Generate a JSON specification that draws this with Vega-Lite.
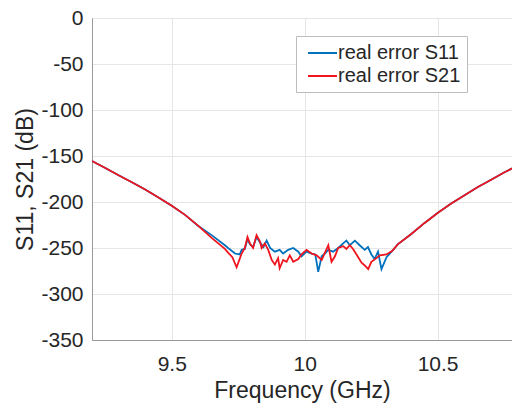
{
  "$schema": "https://vega.github.io/schema/vega-lite/v6.json",
  "width": 420,
  "height": 322,
  "autosize": {"type": "none"},
  "padding": {"left": 92, "top": 18, "right": 0, "bottom": 69},
  "background": "white",
  "config": {
    "font": "Liberation Sans",
    "view": {"stroke": "#9a9a9a", "strokeWidth": 1}
  },
  "datasets": {
    "s11": [
      {"f": 9.2, "v": -155.5}, {"f": 9.25, "v": -163}, {"f": 9.3, "v": -171}, {"f": 9.35, "v": -178.5},
      {"f": 9.4, "v": -186.5}, {"f": 9.45, "v": -195}, {"f": 9.5, "v": -204}, {"f": 9.55, "v": -214},
      {"f": 9.6, "v": -226}, {"f": 9.65, "v": -236}, {"f": 9.7, "v": -247}, {"f": 9.712, "v": -250},
      {"f": 9.738, "v": -256}, {"f": 9.756, "v": -257}, {"f": 9.763, "v": -252}, {"f": 9.775, "v": -251},
      {"f": 9.785, "v": -240}, {"f": 9.794, "v": -246}, {"f": 9.806, "v": -249}, {"f": 9.819, "v": -238},
      {"f": 9.832, "v": -244}, {"f": 9.845, "v": -249}, {"f": 9.857, "v": -242}, {"f": 9.87, "v": -250},
      {"f": 9.888, "v": -254}, {"f": 9.906, "v": -252}, {"f": 9.919, "v": -256}, {"f": 9.938, "v": -252},
      {"f": 9.957, "v": -250}, {"f": 9.976, "v": -254}, {"f": 9.988, "v": -259}, {"f": 10.007, "v": -254},
      {"f": 10.026, "v": -256}, {"f": 10.04, "v": -257}, {"f": 10.051, "v": -276}, {"f": 10.064, "v": -259},
      {"f": 10.076, "v": -256}, {"f": 10.089, "v": -252}, {"f": 10.107, "v": -254}, {"f": 10.126, "v": -250},
      {"f": 10.145, "v": -245}, {"f": 10.157, "v": -242}, {"f": 10.17, "v": -247}, {"f": 10.189, "v": -242},
      {"f": 10.207, "v": -247}, {"f": 10.226, "v": -252}, {"f": 10.238, "v": -249}, {"f": 10.251, "v": -257},
      {"f": 10.263, "v": -262}, {"f": 10.276, "v": -254}, {"f": 10.289, "v": -273}, {"f": 10.308, "v": -260},
      {"f": 10.33, "v": -253}, {"f": 10.35, "v": -246}, {"f": 10.4, "v": -235}, {"f": 10.45, "v": -223},
      {"f": 10.5, "v": -212}, {"f": 10.55, "v": -202}, {"f": 10.6, "v": -193}, {"f": 10.65, "v": -184},
      {"f": 10.7, "v": -176}, {"f": 10.75, "v": -168}, {"f": 10.78, "v": -163.5}
    ],
    "s21": [
      {"f": 9.2, "v": -155.5}, {"f": 9.25, "v": -163}, {"f": 9.3, "v": -171}, {"f": 9.35, "v": -178.5},
      {"f": 9.4, "v": -186.5}, {"f": 9.45, "v": -195}, {"f": 9.5, "v": -204}, {"f": 9.55, "v": -214},
      {"f": 9.6, "v": -226}, {"f": 9.65, "v": -239}, {"f": 9.7, "v": -251}, {"f": 9.712, "v": -255},
      {"f": 9.728, "v": -260}, {"f": 9.744, "v": -271}, {"f": 9.763, "v": -256}, {"f": 9.775, "v": -250},
      {"f": 9.785, "v": -238}, {"f": 9.794, "v": -245}, {"f": 9.806, "v": -250}, {"f": 9.819, "v": -236},
      {"f": 9.832, "v": -243}, {"f": 9.838, "v": -250}, {"f": 9.85, "v": -245}, {"f": 9.863, "v": -252},
      {"f": 9.876, "v": -263}, {"f": 9.888, "v": -268}, {"f": 9.9, "v": -261}, {"f": 9.906, "v": -272},
      {"f": 9.919, "v": -263}, {"f": 9.932, "v": -265}, {"f": 9.944, "v": -258}, {"f": 9.957, "v": -265},
      {"f": 9.976, "v": -262}, {"f": 9.988, "v": -257}, {"f": 10.007, "v": -252}, {"f": 10.026, "v": -256},
      {"f": 10.045, "v": -258}, {"f": 10.064, "v": -263}, {"f": 10.089, "v": -247}, {"f": 10.101, "v": -265},
      {"f": 10.114, "v": -259}, {"f": 10.126, "v": -250}, {"f": 10.145, "v": -248}, {"f": 10.157, "v": -251},
      {"f": 10.17, "v": -247}, {"f": 10.182, "v": -251}, {"f": 10.195, "v": -257}, {"f": 10.214, "v": -266},
      {"f": 10.226, "v": -269}, {"f": 10.239, "v": -273}, {"f": 10.251, "v": -265}, {"f": 10.27, "v": -261},
      {"f": 10.283, "v": -258}, {"f": 10.308, "v": -257}, {"f": 10.33, "v": -253}, {"f": 10.35, "v": -246},
      {"f": 10.4, "v": -235}, {"f": 10.45, "v": -223}, {"f": 10.5, "v": -212}, {"f": 10.55, "v": -202},
      {"f": 10.6, "v": -193}, {"f": 10.65, "v": -184}, {"f": 10.7, "v": -176}, {"f": 10.75, "v": -168},
      {"f": 10.78, "v": -163.5}
    ]
  },
  "layer": [
    {
      "data": {"name": "s11"},
      "transform": [{"calculate": "'real error S11'", "as": "s"}],
      "mark": {"type": "line", "strokeWidth": 1.8, "clip": true},
      "encoding": {
        "x": {"field": "f", "type": "quantitative"},
        "y": {"field": "v", "type": "quantitative"},
        "color": {"field": "s", "type": "nominal"}
      }
    },
    {
      "data": {"name": "s21"},
      "transform": [{"calculate": "'real error S21'", "as": "s"}],
      "mark": {"type": "line", "strokeWidth": 1.8, "clip": true},
      "encoding": {
        "x": {"field": "f", "type": "quantitative"},
        "y": {"field": "v", "type": "quantitative"},
        "color": {"field": "s", "type": "nominal"}
      }
    }
  ],
  "encoding": {
    "x": {
      "field": "f", "type": "quantitative",
      "scale": {"domain": [9.2, 10.78], "nice": false, "zero": false},
      "axis": {
        "title": "Frequency (GHz)", "values": [9.5, 10, 10.5], "labelExpr": "'' + datum.value",
        "grid": true, "gridColor": "#e6e6e6", "ticks": false, "domainColor": "#9a9a9a",
        "labelFontSize": 21, "labelPadding": 13, "labelColor": "#262626",
        "titleFontSize": 23, "titleFontWeight": "normal", "titleColor": "#262626", "titlePadding": 5
      }
    },
    "y": {
      "field": "v", "type": "quantitative",
      "scale": {"domain": [-350, 0], "nice": false, "zero": false},
      "axis": {
        "title": "S11, S21 (dB)", "values": [-350, -300, -250, -200, -150, -100, -50, 0], "labelExpr": "'' + datum.value",
        "grid": true, "gridColor": "#e6e6e6", "ticks": false, "domainColor": "#9a9a9a",
        "labelFontSize": 21, "labelPadding": 9, "labelColor": "#262626",
        "titleFontSize": 23, "titleFontWeight": "normal", "titleColor": "#262626", "titlePadding": 3
      }
    },
    "color": {
      "field": "s", "type": "nominal",
      "scale": {"domain": ["real error S11", "real error S21"], "range": ["#0072BD", "#f0141e"]},
      "legend": {
        "title": null, "orient": "none", "legendX": 204, "legendY": 18,
        "symbolType": "M-0.5,0H2.4", "symbolSize": 400, "symbolStrokeWidth": 2,
        "labelFontSize": 20, "labelOffset": 14, "labelColor": "#262626", "labelLimit": 0,
        "padding": 6, "rowPadding": 2, "strokeColor": "#bdbdbd", "fillColor": "white", "cornerRadius": 0
      }
    }
  }
}
